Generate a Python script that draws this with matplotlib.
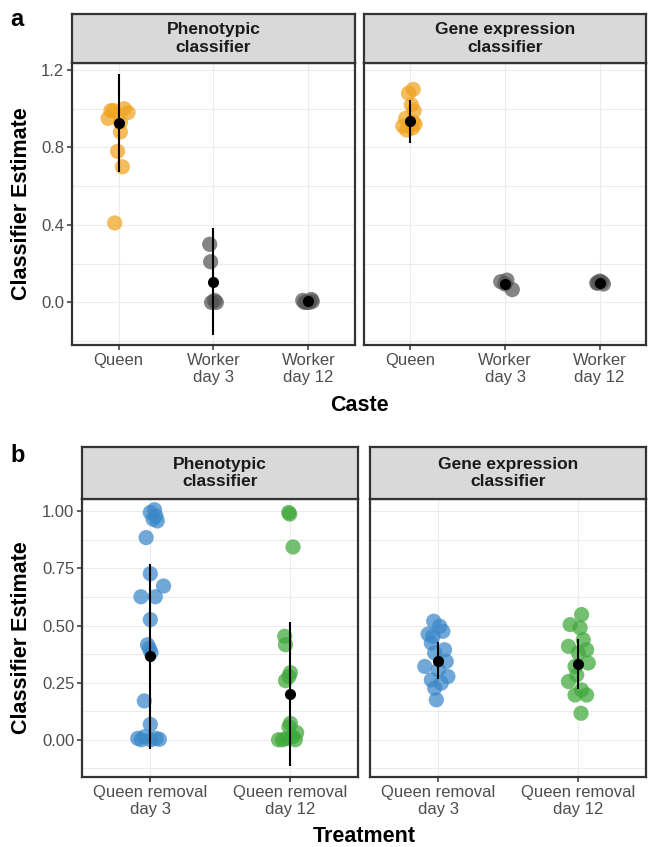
import numpy as np
import matplotlib
matplotlib.use("Agg")
import matplotlib.pyplot as plt

plt.rcParams['font.family'] = ['Liberation Sans', 'DejaVu Sans']

# ---- panel a : caste ----
castes = ["Queen", "Worker\nday 3", "Worker\nday 12"]

pheno_queen = [1.00, 0.99, 0.98, 0.99, 0.95, 0.93, 0.88, 0.78, 0.70, 0.41]
pheno_queen_jit = [0.06, -0.05, 0.10, -0.08, -0.11, 0.02, 0.02, -0.01, 0.04, -0.04]
pheno_w3 = [0.30, 0.21, 0.01, 0.0, 0.0]
pheno_w3_jit = [-0.04, -0.03, 0.01, -0.02, 0.03]
pheno_w12 = [0.01, 0.0, 0.0, 0.005, 0.015, 0.0]
pheno_w12_jit = [-0.06, -0.02, 0.01, 0.04, 0.03, -0.04]
pheno_caste_mean = [0.925, 0.107, 0.007]
pheno_caste_sd = [0.253, 0.275, 0.008]

gene_queen = [1.10, 1.08, 1.02, 0.99, 0.95, 0.93, 0.91, 0.90, 0.89, 0.92]
gene_queen_jit = [0.03, -0.02, 0.01, 0.04, -0.05, 0.03, -0.08, 0.02, -0.04, 0.05]
gene_w3 = [0.107, 0.115, 0.066, 0.095]
gene_w3_jit = [-0.045, 0.02, 0.077, 0.0]
gene_w12 = [0.10, 0.105, 0.11, 0.095, 0.10]
gene_w12_jit = [-0.03, 0.02, 0.0, 0.04, -0.02]
gene_caste_mean = [0.934, 0.093, 0.102]
gene_caste_sd = [0.112, 0.012, 0.006]

# ---- panel b : treatment ----
treatments = ["Queen removal\nday 3", "Queen removal\nday 12"]

pheno_d3 = [1.007, 0.995, 0.98, 0.966, 0.958, 0.885, 0.727, 0.673, 0.626, 0.626,
            0.526, 0.416, 0.40, 0.382, 0.17, 0.067, 0.006, 0.013, 0.006, 0.0, 0.0, 0.002]
pheno_d3_jit = [0.03, 0.0, 0.04, 0.02, 0.05, -0.03, 0.0, 0.095, -0.067, 0.036,
                0.0, -0.02, -0.007, 0.005, -0.043, 0.0, -0.09, -0.043, 0.04, 0.005, -0.065, 0.065]
pheno_d12 = [0.995, 0.988, 0.844, 0.453, 0.416, 0.294, 0.277, 0.259, 0.072, 0.057,
             0.031, 0.0, 0.006, 0.0, 0.013, 0.0]
pheno_d12_jit = [-0.007, 0.0, 0.024, -0.036, -0.03, 0.005, -0.005, -0.03, 0.005, -0.005,
                 0.05, -0.08, -0.02, 0.04, 0.02, -0.05]
pheno_trt_mean = [0.365, 0.199]
pheno_trt_sd = [0.406, 0.316]

gene_d3 = [0.519, 0.497, 0.463, 0.475, 0.424, 0.394, 0.38, 0.321, 0.343, 0.262,
           0.277, 0.226, 0.248, 0.175, 0.306, 0.453]
gene_d3_jit = [-0.033, 0.01, -0.073, 0.033, -0.05, 0.045, -0.026, -0.097, 0.057, -0.05,
               0.069, -0.026, 0.021, -0.014, 0.0, -0.038]
gene_d12 = [0.548, 0.504, 0.49, 0.409, 0.394, 0.38, 0.336, 0.321, 0.255, 0.196,
            0.196, 0.218, 0.116, 0.284, 0.438]
gene_d12_jit = [0.028, -0.054, 0.017, -0.066, 0.064, 0.005, 0.076, -0.019, -0.066, 0.064,
                -0.019, 0.028, 0.024, -0.007, 0.04]
gene_trt_mean = [0.346, 0.331]
gene_trt_sd = [0.082, 0.11]

ORANGE = "#EFA21E"
GRAY = "#555555"
BLUE = "#3A87C8"
GREEN = "#3FA83A"
BORDER = "#333333"

W, H = 648, 847
fig = plt.figure(figsize=(W / 100, H / 100), dpi=100)


def px_axes(x0, y0, x1, y1):
    # pixel box (top-left origin) -> figure axes
    return fig.add_axes([x0 / W, 1 - y1 / H, (x1 - x0) / W, (y1 - y0) / H])


def strip(x0, x1, y0, y1, label):
    s = px_axes(x0, y0, x1, y1)
    s.set_facecolor("#d9d9d9")
    s.set_xticks([])
    s.set_yticks([])
    for sp in s.spines.values():
        sp.set_color(BORDER)
        sp.set_linewidth(1.6)
    s.text(0.5, 0.5, label, ha="center", va="center", fontsize=12.5,
           fontweight="bold", color="#1a1a1a", linespacing=1.2, transform=s.transAxes)


def panel(box, groups, jits, colors, means, sds, labels, ylim, major, minor, ylabels):
    ax = px_axes(*box)
    n = len(labels)
    for i in range(n):
        x = np.arange(n)[i] + 1 + np.array(jits[i])
        ax.scatter(x, groups[i], s=120, color=colors[i], alpha=0.72,
                   edgecolors="none", zorder=3)
    pos = np.arange(1, n + 1)
    ax.errorbar(pos, means, yerr=sds, fmt="o", color="black", ms=7,
                elinewidth=1.5, capsize=0, zorder=4)
    ax.set_xlim(0.51, n + 0.49)
    ax.set_ylim(*ylim)
    ax.set_xticks(pos)
    ax.set_xticklabels(labels, fontsize=12, color="#4d4d4d", linespacing=1.2)
    ax.set_yticks(major)
    ax.set_yticks(minor, minor=True)
    ax.tick_params(axis="y", which="minor", length=0)
    ax.tick_params(axis="both", which="major", length=3.5, width=1.1,
                   color=BORDER, labelsize=12, labelcolor="#4d4d4d", pad=2)
    if ylabels is None:
        ax.set_yticklabels([])
        ax.tick_params(axis="y", which="major", length=0)
    else:
        ax.set_yticklabels(ylabels)
    ax.grid(axis="y", which="both", color="#ebebeb", lw=0.8, zorder=0)
    ax.grid(axis="x", which="major", color="#ebebeb", lw=0.8, zorder=0)
    ax.set_axisbelow(True)
    for sp in ax.spines.values():
        sp.set_color(BORDER)
        sp.set_linewidth(1.6)
    return ax


# panel a
ylim_a = (-0.22, 1.236)
maj_a = [0.0, 0.4, 0.8, 1.2]
min_a = [-0.2, 0.2, 0.6, 1.0]
col_a = [ORANGE, GRAY, GRAY]
panel((72, 63, 355, 345), [pheno_queen, pheno_w3, pheno_w12],
      [pheno_queen_jit, pheno_w3_jit, pheno_w12_jit], col_a,
      pheno_caste_mean, pheno_caste_sd, castes, ylim_a, maj_a, min_a,
      ["0.0", "0.4", "0.8", "1.2"])
panel((364, 63, 646, 345), [gene_queen, gene_w3, gene_w12],
      [gene_queen_jit, gene_w3_jit, gene_w12_jit], col_a,
      gene_caste_mean, gene_caste_sd, castes, ylim_a, maj_a, min_a, None)
strip(72, 355, 14, 63, "Phenotypic\nclassifier")
strip(364, 646, 14, 63, "Gene expression\nclassifier")

# panel b
ylim_b = (-0.163, 1.054)
maj_b = [0.0, 0.25, 0.5, 0.75, 1.0]
min_b = [-0.125, 0.125, 0.375, 0.625, 0.875]
col_b = [BLUE, GREEN]
panel((82, 499, 358, 777), [pheno_d3, pheno_d12], [pheno_d3_jit, pheno_d12_jit], col_b,
      pheno_trt_mean, pheno_trt_sd, treatments, ylim_b, maj_b, min_b,
      ["0.00", "0.25", "0.50", "0.75", "1.00"])
panel((370, 499, 646, 777), [gene_d3, gene_d12], [gene_d3_jit, gene_d12_jit], col_b,
      gene_trt_mean, gene_trt_sd, treatments, ylim_b, maj_b, min_b, None)
strip(82, 358, 447, 499, "Phenotypic\nclassifier")
strip(370, 646, 447, 499, "Gene expression\nclassifier")

# titles and panel letters
fig.text(22 / W, 1 - 204 / H, "Classifier Estimate", rotation=90, ha="center",
         va="center", fontsize=15.5, fontweight="bold")
fig.text(22 / W, 1 - 638 / H, "Classifier Estimate", rotation=90, ha="center",
         va="center", fontsize=15.5, fontweight="bold")
fig.text(359 / W, 1 - 405 / H, "Caste", ha="center", va="center",
         fontsize=15.5, fontweight="bold")
fig.text(364 / W, 1 - 836 / H, "Treatment", ha="center", va="center",
         fontsize=15.5, fontweight="bold")
fig.text(10 / W, 1 - 20 / H, "a", ha="left", va="center", fontsize=17, fontweight="bold")
fig.text(10 / W, 1 - 455 / H, "b", ha="left", va="center", fontsize=17, fontweight="bold")

fig.savefig("out.png", dpi=100)
